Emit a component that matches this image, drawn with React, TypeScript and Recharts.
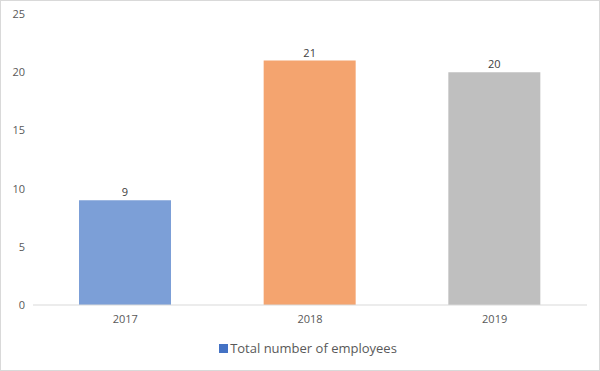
import { BarChart, Bar, XAxis, YAxis, Cell, LabelList, Legend } from 'recharts'

const years = ['2017', '2018', '2019']
const employees = [9, 21, 20]
const barColors = ['#7c9fd7', '#f4a46f', '#bfbfbf']
const yTicks = [0, 5, 10, 15, 20, 25]
const seriesName = 'Total number of employees'

const data = years.map((year, i) => ({ year, employees: employees[i] }))

const font = '"Open Sans", "Noto Sans", sans-serif'

const LegendContent = () => (
  <div
    style={{
      display: 'flex',
      justifyContent: 'center',
      alignItems: 'center',
      fontFamily: font,
      fontSize: 13,
      color: '#595959',
    }}
  >
    <span style={{ width: 9, height: 9, background: '#4472c4', marginRight: 2, display: 'inline-block' }} />
    {seriesName}
  </div>
)

export default function App() {
  return (
    <div
      style={{
        position: 'absolute',
        left: 0,
        top: 0,
        width: 598,
        height: 369,
        border: '1px solid #d9d9d9',
        background: '#fff',
      }}
    >
      <BarChart
        width={598}
        height={369}
        data={data}
        margin={{ top: 13, right: 12, left: 0, bottom: 13 }}
      >
        <XAxis
          dataKey="year"
          tick={{ fontSize: 11, fill: '#595959', fontFamily: font }}
          tickLine={false}
          axisLine={{ stroke: '#d9d9d9' }}
          tickMargin={4}
          height={34}
        />
        <YAxis
          domain={[0, 25]}
          ticks={yTicks}
          tick={{ fontSize: 11, fill: '#595959', fontFamily: font }}
          tickLine={false}
          axisLine={false}
          width={32}
        />
        <Legend verticalAlign="bottom" content={<LegendContent />} wrapperStyle={{ left: 14 }} />
        <Bar dataKey="employees" name={seriesName} barSize={92} isAnimationActive={false}>
          {data.map((d, i) => (
            <Cell key={d.year} fill={barColors[i]} />
          ))}
          <LabelList
            dataKey="employees"
            position="top"
            offset={4}
            style={{ fontSize: 11, fill: '#404040', fontFamily: font }}
          />
        </Bar>
      </BarChart>
    </div>
  )
}
